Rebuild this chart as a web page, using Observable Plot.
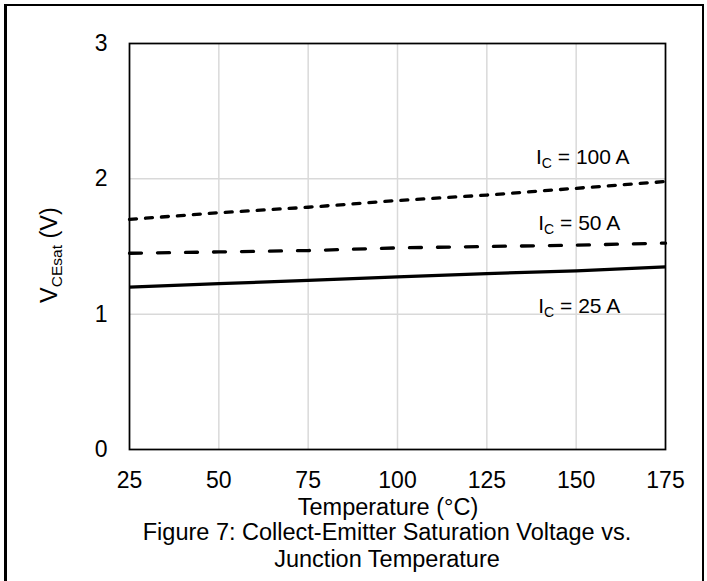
<!DOCTYPE html>
<html><head><meta charset="utf-8">
<script src="https://cdn.jsdelivr.net/npm/d3@7"></script>
<script src="https://cdn.jsdelivr.net/npm/@observablehq/plot@0.6"></script>
<style>
body{margin:0;background:#fff;overflow:hidden;font-family:"Liberation Sans",Arial,sans-serif;}
#wrap{position:relative;width:707px;height:581px;overflow:hidden;background:#fff;}
#border{position:absolute;left:4px;top:4px;width:700px;height:620px;border-top:2px solid #000;border-left:3px solid #000;border-right:2px solid #000;box-sizing:border-box;}
#chart{position:absolute;left:0;top:0;}
#caption{position:absolute;left:87px;top:519px;width:600px;text-align:center;font-size:23.5px;line-height:27px;color:#000;}
</style></head>
<body>
<div id="wrap"><div id="border"></div><div id="chart"></div>
<div id="caption">Figure 7: Collect-Emitter Saturation Voltage vs.<br>Junction Temperature</div></div>
<script>
// ---- data ----
const temps = [25, 50, 75, 100, 125, 150, 175];
const v100 = [1.70, 1.75, 1.79, 1.84, 1.88, 1.93, 1.98];
const v50  = [1.45, 1.46, 1.47, 1.49, 1.50, 1.51, 1.525];
const v25  = [1.20, 1.225, 1.25, 1.275, 1.30, 1.32, 1.35];
const currents = ["100", "50", "25"];
const xTicks = [25, 50, 75, 100, 125, 150, 175];
const yTicks = [0, 1, 2, 3];
// label anchors in data units (temperature, voltage)
const labelTemp = [152, 151, 151];
const labelV = [2.105, 1.62, 1.005];

const series = {"100": v100, "50": v50, "25": v25};
const table = currents.flatMap(c => temps.map((t, i) => ({s: c, t, v: series[c][i]})));
const dashes = {"100": "7,9", "50": "12,16", "25": null};

const font = '"Liberation Sans", Arial, sans-serif';
const plot = Plot.plot({
  width: 707, height: 520,
  marginLeft: 129, marginRight: 42, marginTop: 43, marginBottom: 71,
  x: {domain: [25, 175]},
  y: {domain: [0, 3]},
  style: {fontFamily: font, fontSize: "23px", color: "#000", background: "transparent", overflow: "visible"},
  marks: [
    Plot.gridX(xTicks.slice(1, -1), {stroke: "#d9d9d9", strokeOpacity: 1, strokeWidth: 1.5}),
    Plot.gridY(yTicks.slice(1, -1), {stroke: "#d9d9d9", strokeOpacity: 1, strokeWidth: 1.5}),
    ...currents.map(c => Plot.line(table.filter(d => d.s === c), {
      x: "t", y: "v", stroke: "#000", strokeWidth: 3.3,
      strokeDasharray: dashes[c] || undefined, strokeLinecap: dashes[c] ? "round" : "butt"
    })),
    Plot.frame({stroke: "#000", strokeWidth: 1.75}),
    Plot.axisX({ticks: xTicks, tickSize: 0, tickPadding: 22, label: null, fontSize: 23, tickFormat: d => String(d)}),
    Plot.axisY({ticks: yTicks, tickSize: 0, tickPadding: 22, label: null, fontSize: 23, tickFormat: d => String(d)})
  ]
});
document.getElementById("chart").appendChild(plot);

const xs = plot.scale("x"), ys = plot.scale("y");
const svg = d3.select(plot);

// x-axis title
svg.append("text").attr("x", 388).attr("y", 515).attr("text-anchor", "middle")
  .attr("font-size", 23.5).attr("font-family", font).attr("fill", "#000")
  .text("Temperature (°C)");

// y-axis title
const yt = svg.append("text").attr("transform", "translate(57,255) rotate(-90)")
  .attr("text-anchor", "middle").attr("font-size", 23.5).attr("font-family", font).attr("fill", "#000");
yt.append("tspan").text("V");
yt.append("tspan").attr("font-size", 15.5).attr("dy", 5).text("CEsat");
yt.append("tspan").attr("dy", -5).text(" (V)");

// series labels
currents.forEach((c, i) => {
  const t = svg.append("text").attr("x", xs.apply(labelTemp[i])).attr("y", ys.apply(labelV[i]))
    .attr("text-anchor", "middle").attr("font-size", 21).attr("font-family", font).attr("fill", "#000");
  t.append("tspan").text("I");
  t.append("tspan").attr("font-size", 14).attr("dy", 4).text("C");
  t.append("tspan").attr("dy", -4).text(` = ${c} A`);
});
</script>
</body></html>
